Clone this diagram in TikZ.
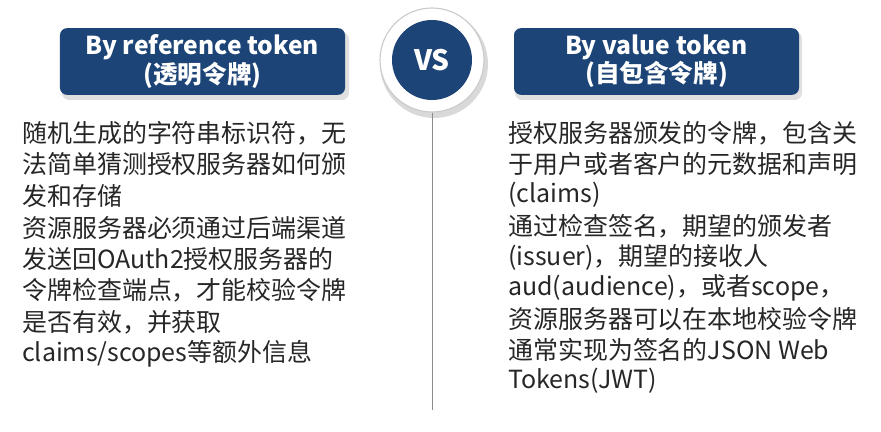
\documentclass[tikz,border=0pt]{standalone}
\usepackage{fontspec}
\setmainfont{Noto Sans CJK SC}
\usetikzlibrary{positioning}
\definecolor{hdblue}{RGB}{28,68,118}
\tikzset{
  header/.style={fill=hdblue, rounded corners=6pt, minimum width=8.55cm, minimum height=2.0cm,
    text=white, font=\fontsize{21}{24}\selectfont\bfseries, align=center},
  body/.style={anchor=west, font=\fontsize{21.3}{24}\selectfont, text=black!85, inner sep=0pt}
}
\begin{document}
\begin{tikzpicture}[x=0.03cm, y=-0.03cm]
    \useasboundingbox (0,0) rectangle (881,432);
    % header boxes
    \fill[black!12, rounded corners=6pt] (62,32) rectangle (349,100);
    \node[header] (refhead) at (202.5,61.5) {By reference token\\(透明令牌)};
    \fill[black!12, rounded corners=6pt] (515,32) rectangle (802,100);
    \node[header] (valhead) at (656.5,61.5) {By value token\\(自包含令牌)};
    % vs circle
    \fill[black!15] (434,64) circle (54);
    \fill[white] (432,60) circle (52);
    \draw[black!20, line width=1pt] (432,60) circle (52);
    \node[circle, fill=hdblue, minimum size=2.4cm, text=white,
      font=\fontsize{24}{26}\selectfont\bfseries] (vs) at (432,60) {VS};
    \coordinate (lineend) at (432,410);
    \draw[black!45, thin] (432,113) -- (lineend);
    % left text
    \foreach \t [count=\i from 0] in {随机生成的字符串标识符，无, 法简单猜测授权服务器如何颁,
      发和存储, 资源服务器必须通过后端渠道, 发送回OAuth2授权服务器的,
      令牌检查端点，才能校验令牌, 是否有效，并获取, claims/scopes等额外信息}
      \node[body] (l\i) at (22,133+31.5*\i) {\t};
    % right text
    \foreach \t [count=\i from 0] in {授权服务器颁发的令牌，包含关, 于用户或者客户的元数据和声明,
      (claims), 通过检查签名，期望的颁发者, (issuer)，期望的接收人,
      aud(audience)，或者scope，, 资源服务器可以在本地校验令牌,
      通常实现为签名的JSON Web, Tokens(JWT)}
      \node[body] (r\i) at (508,133+31*\i) {\t};
\end{tikzpicture}
\end{document}
